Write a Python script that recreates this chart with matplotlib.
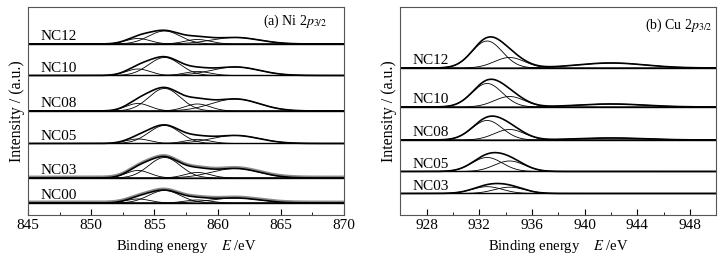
import numpy as np
import matplotlib
matplotlib.use("Agg")
import matplotlib.pyplot as plt
from matplotlib.ticker import MultipleLocator

plt.rcParams["font.family"] = ["Liberation Serif", "DejaVu Serif"]
plt.rcParams["mathtext.fontset"] = "stix"

# (a) Ni 2p3/2 - samples, baseline offsets, fitted peaks (centre eV, height, sigma eV)
ni_samples = ["NC12", "NC10", "NC08", "NC05", "NC03", "NC00"]
ni_offsets = [171, 139.5, 104, 71.5, 37, 12]
ni_centres = [853.7, 855.8, 858.4, 861.4]
ni_sigmas = [0.95, 1.25, 1.0, 1.9]
ni_heights = [
    [5.5, 13, 4.5, 6.5],
    [6.5, 18, 4, 8.5],
    [7.5, 22.5, 7, 12],
    [4.5, 18, 4, 8],
    [7.5, 20.5, 5.5, 9.5],
    [4, 12.5, 3, 5],
]
ni_grey = ["NC03", "NC00"]

# (b) Cu 2p3/2
cu_samples = ["NC12", "NC10", "NC08", "NC05", "NC03"]
cu_offsets = [147, 108, 75, 43.5, 21.5]
cu_centres = [932.6, 934.3, 942.0]
cu_sigmas = [1.15, 1.15, 2.6]
cu_heights = [
    [27, 10.5, 5],
    [23.5, 10.5, 3],
    [19.5, 10.5, 2],
    [14, 10.5, 0],
    [6.8, 6.3, 0],
]


def gauss(x, c, h, s):
    return h * np.exp(-0.5 * ((x - c) / s) ** 2)


def draw_panel(ax, xlim, samples, offsets, centres, sigmas, heights, grey=()):
    x = np.linspace(xlim[0], xlim[1], 600)
    for name, off, hs in zip(samples, offsets, heights):
        ax.plot(x, np.full_like(x, off), color="black", lw=1.0)
        total = np.zeros_like(x)
        for c, h, s in zip(centres, hs, sigmas):
            if h <= 0:
                continue
            comp = gauss(x, c, h, s)
            total += comp
            ax.plot(x, off + comp, color="black", lw=0.6)
        if name in grey:
            ax.plot(x, off + total + 1.5, color="#8a8a8a", lw=1.3)
        ax.plot(x, off + total, color="black", lw=1.2)
        ax.text(xlim[0] + 0.04 * (xlim[1] - xlim[0]), off + 0.5, name,
                fontsize=11, va="bottom", ha="left")
    ax.set_xlim(*xlim)
    ax.set_ylim(0, 208)
    ax.set_yticks([])
    ax.tick_params(axis="x", which="both", direction="in", top=False,
                   labelsize=11, pad=3)
    ax.tick_params(axis="x", which="major", length=4)
    ax.tick_params(axis="x", which="minor", length=2)
    for sp in ax.spines.values():
        sp.set_linewidth(0.8)
        sp.set_color("#555555")
    ax.set_xlabel(r"Binding energy    $E$ /eV", fontsize=10.5, labelpad=4)
    ax.set_ylabel("Intensity / (a.u.)", fontsize=11.5, labelpad=2)


fig = plt.figure(figsize=(7.25, 2.59), dpi=100)
ax1 = fig.add_axes([0.0386, 0.170, 0.436, 0.803])
ax2 = fig.add_axes([0.552, 0.170, 0.436, 0.803])

draw_panel(ax1, (845, 870), ni_samples, ni_offsets, ni_centres, ni_sigmas,
           ni_heights, ni_grey)
ax1.xaxis.set_major_locator(MultipleLocator(5))
ax1.xaxis.set_minor_locator(MultipleLocator(2.5))
ax1.text(863.6, 194, r"(a) Ni 2$\mathit{p}_{3/2}$", fontsize=10, va="center")

draw_panel(ax2, (926, 950), cu_samples, cu_offsets, cu_centres, cu_sigmas,
           cu_heights)
ax2.xaxis.set_major_locator(MultipleLocator(4))
ax2.xaxis.set_minor_locator(MultipleLocator(2))
ax2.text(944.6, 190, r"(b) Cu 2$\mathit{p}_{3/2}$", fontsize=10, va="center")

fig.savefig("out.png", dpi=100)
